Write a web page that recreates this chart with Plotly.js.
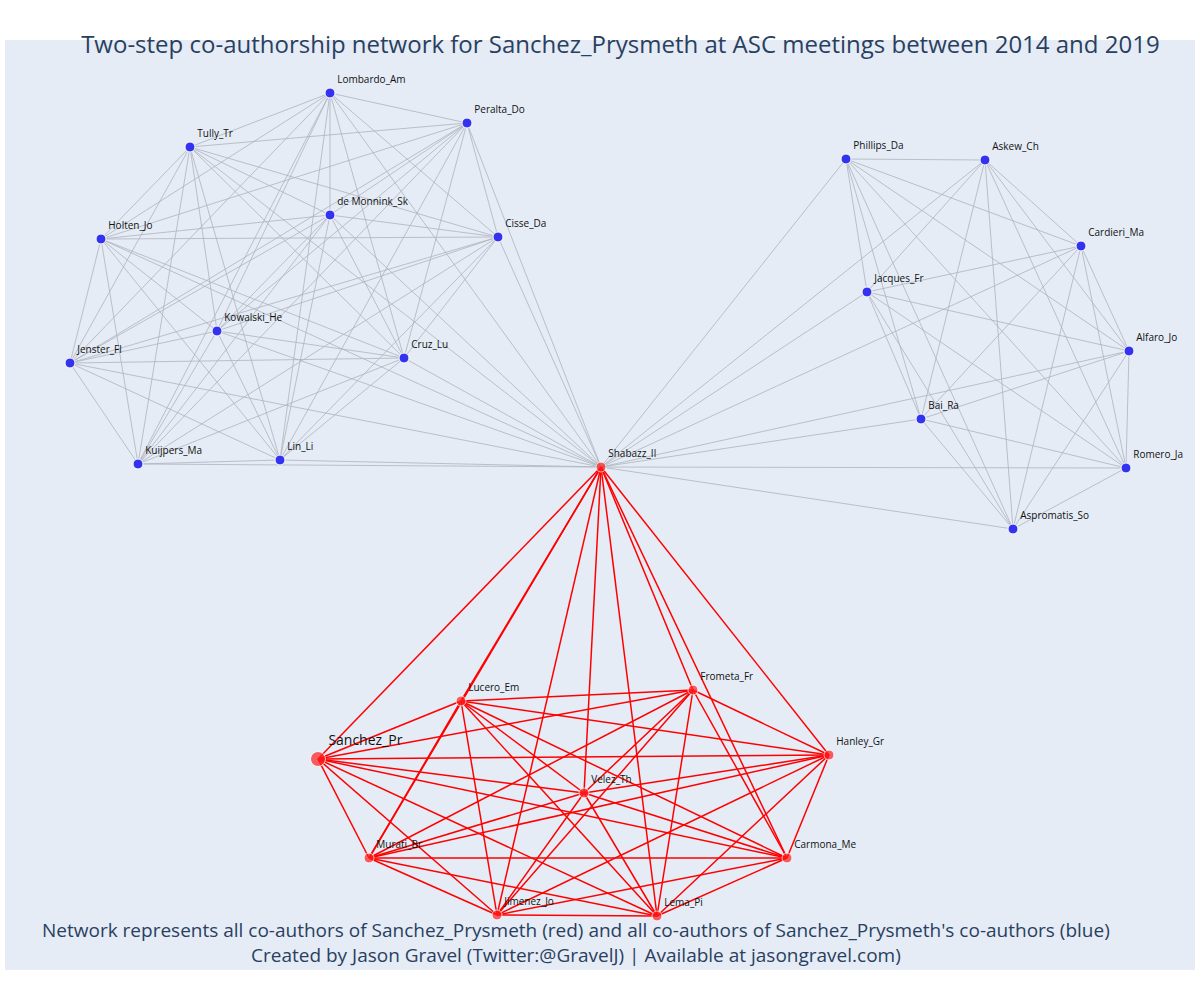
<!DOCTYPE html>
<html>
<head>
<meta charset="utf-8">
<script src="https://cdn.plot.ly/plotly-3.0.1.min.js"></script>
</head>
<body style="margin:0">
<div id="chart" style="width:1200px;height:1000px"></div>
<script>
// node layout (positions from the network layout)
var blueLeft = ['Lombardo_Am','Peralta_Do','Tully_Tr','de Monnink_Sk','Holten_Jo','Cisse_Da','Kowalski_He','Jenster_Fl','Cruz_Lu','Kuijpers_Ma','Lin_Li'];
var blueLeftX = [330,467,190,330,101,498,217,70,404,138,280];
var blueLeftY = [93,123,147,215,239,237,331,363,358,464,460];

var blueRight = ['Phillips_Da','Askew_Ch','Cardieri_Ma','Jacques_Fr','Alfaro_Jo','Bai_Ra','Romero_Ja','Aspromatis_So'];
var blueRightX = [846,985,1081,867,1129,921,1126,1013];
var blueRightY = [159,160,246,292,351,419,468,529];

var hub = 'Shabazz_Il', hubX = 601, hubY = 467;

var red = ['Lucero_Em','Frometa_Fr','Sanchez_Pr','Hanley_Gr','Velez_Th','Murati_Br','Carmona_Me','Jimenez_Jo','Lema_Pi'];
var redX = [461,693,318,829,584,369,787,497,657];
var redY = [701,690,759,755,793,858,858,915,916];

function clique(xs, ys) {
    var ex = [], ey = [];
    for (var i = 0; i < xs.length; i++) {
        for (var j = i + 1; j < xs.length; j++) {
            ex.push(xs[i], xs[j], null);
            ey.push(ys[i], ys[j], null);
        }
    }
    return [ex, ey];
}

var eL = clique(blueLeftX.concat([hubX]), blueLeftY.concat([hubY]));
var eR = clique(blueRightX.concat([hubX]), blueRightY.concat([hubY]));
var eRed = clique(redX.concat([hubX]), redY.concat([hubY]));

var grey = {type:'scatter', mode:'lines', x:eL[0].concat(eR[0]), y:eL[1].concat(eR[1]),
    line:{color:'rgb(175,178,190)', width:0.8}, hoverinfo:'skip'};
var redEdges = {type:'scatter', mode:'lines', x:eRed[0], y:eRed[1],
    line:{color:'rgb(255,0,0)', width:1.5}, hoverinfo:'skip'};

var blueNodes = {type:'scatter', mode:'markers+text',
    x:blueLeftX.concat(blueRightX), y:blueLeftY.concat(blueRightY),
    text:blueLeft.concat(blueRight), textposition:'top right',
    textfont:{family:'Open Sans', size:10, color:'#111'},
    marker:{size:10, color:'rgb(50,50,240)', line:{color:'white', width:1}}};

var redSizes = red.map(function(n){ return n === 'Sanchez_Pr' ? 15 : 10; });
var redFont = red.map(function(n){ return n === 'Sanchez_Pr' ? 14 : 10; });
var redNodes = {type:'scatter', mode:'markers+text',
    x:redX.concat([hubX]), y:redY.concat([hubY]),
    text:red.concat([hub]), textposition:'top right',
    textfont:{family:'Open Sans', size:redFont.concat([10]), color:'#111'},
    marker:{size:redSizes.concat([10]), color:'rgb(255,30,30)', line:{color:'white', width:1}}};

var layout = {
    width:1200, height:1000,
    showlegend:false,
    paper_bgcolor:'white', plot_bgcolor:'#e5ecf6',
    margin:{l:5, r:5, t:40, b:30},
    font:{family:'Open Sans'},
    xaxis:{range:[5,1195], visible:false},
    yaxis:{range:[970,40], visible:false},
    title:{text:'Two-step co-authorship network for Sanchez_Prysmeth at ASC meetings between 2014 and 2019',
        font:{size:24, color:'#2a3f5f'}, x:0.517, xanchor:'center', y:0.955, yanchor:'middle'},
    annotations:[
        {text:"Network represents all co-authors of Sanchez_Prysmeth (red) and all co-authors of Sanchez_Prysmeth's co-authors (blue)<br>Created by Jason Gravel (Twitter:@GravelJ) | Available at jasongravel.com)",
         xref:'paper', yref:'paper', x:0.48, y:0.0, xanchor:'center', yanchor:'bottom',
         showarrow:false, font:{size:19, color:'#2a3f5f'}}
    ]
};

Plotly.newPlot('chart', [grey, redEdges, blueNodes, redNodes], layout, {displayModeBar:false});
</script>
</body>
</html>
